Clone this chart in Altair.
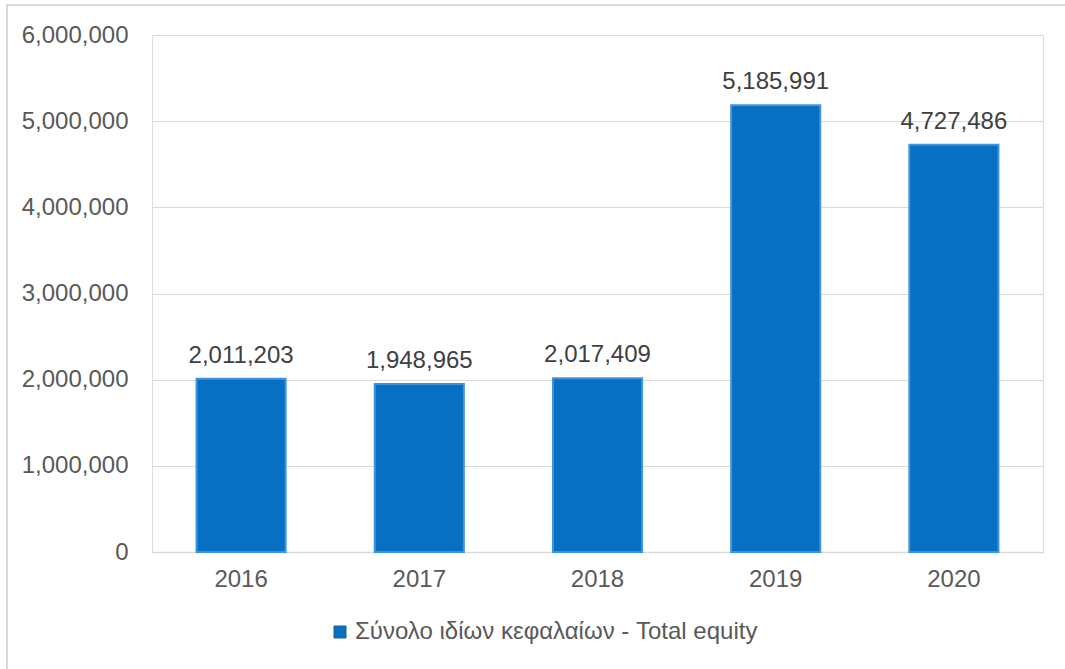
import altair as alt
import pandas as pd

years = ["2016", "2017", "2018", "2019", "2020"]
values = [2011203, 1948965, 2017409, 5185991, 4727486]
series = "Σύνολο ιδίων κεφαλαίων - Total equity"
y_ticks = [0, 1000000, 2000000, 3000000, 4000000, 5000000, 6000000]

df = pd.DataFrame({"year": years, "value": values, "series": [series] * len(years)})

FONT = "Liberation Sans"
GREY = "#595959"
FS = 24

x = alt.X("year:N", title=None,
          scale=alt.Scale(paddingInner=0.5, paddingOuter=0.25),
          axis=alt.Axis(labelAngle=0, labelFontSize=FS, labelColor=GREY, labelFont=FONT,
                        ticks=False, domainColor="#d9d9d9", domainWidth=1.5, labelPadding=15))
y = alt.Y("value:Q", title=None,
          scale=alt.Scale(domain=[0, 6000000]),
          axis=alt.Axis(values=y_ticks,
                        format=",.0f", labelFontSize=FS, labelColor=GREY, labelFont=FONT,
                        ticks=False, domain=False, gridColor="#d9d9d9", gridWidth=1.2,
                        labelPadding=24))

bars = alt.Chart(df).mark_bar(stroke="#3f95dc", strokeWidth=2).encode(
    x=x, y=y,
    color=alt.Color("series:N", scale=alt.Scale(range=["#0870c2"]),
                    legend=alt.Legend(title=None, orient="none", legendX=176, legendY=585,
                                      symbolType="square", symbolSize=144,
                                      symbolStrokeColor="#1f5f99", symbolStrokeWidth=1,
                                      labelFontSize=FS, labelColor=GREY, labelFont=FONT,
                                      labelLimit=800, labelOffset=3)),
)

labels = alt.Chart(df).mark_text(baseline="alphabetic", dy=-16, fontSize=FS, color="#404040", font=FONT).encode(
    x=x, y=y, text=alt.Text("value:Q", format=",.0f")
)

border = alt.Chart(df).mark_rect(fill=None, stroke="#d9d9d9", strokeWidth=1.5).encode(
    x=alt.value(-145), x2=alt.value(930), y=alt.value(-30), y2=alt.value(660)
)

chart = alt.layer(bars, labels, border).properties(
    width=891, height=517,
    autosize=alt.AutoSizeParams(type="none"),
    padding={"left": 152, "top": 35, "right": 22, "bottom": 117},
).configure_view(stroke=None).configure(background="white")

chart.save("out.html", embed_options={"renderer": "svg", "actions": False})
